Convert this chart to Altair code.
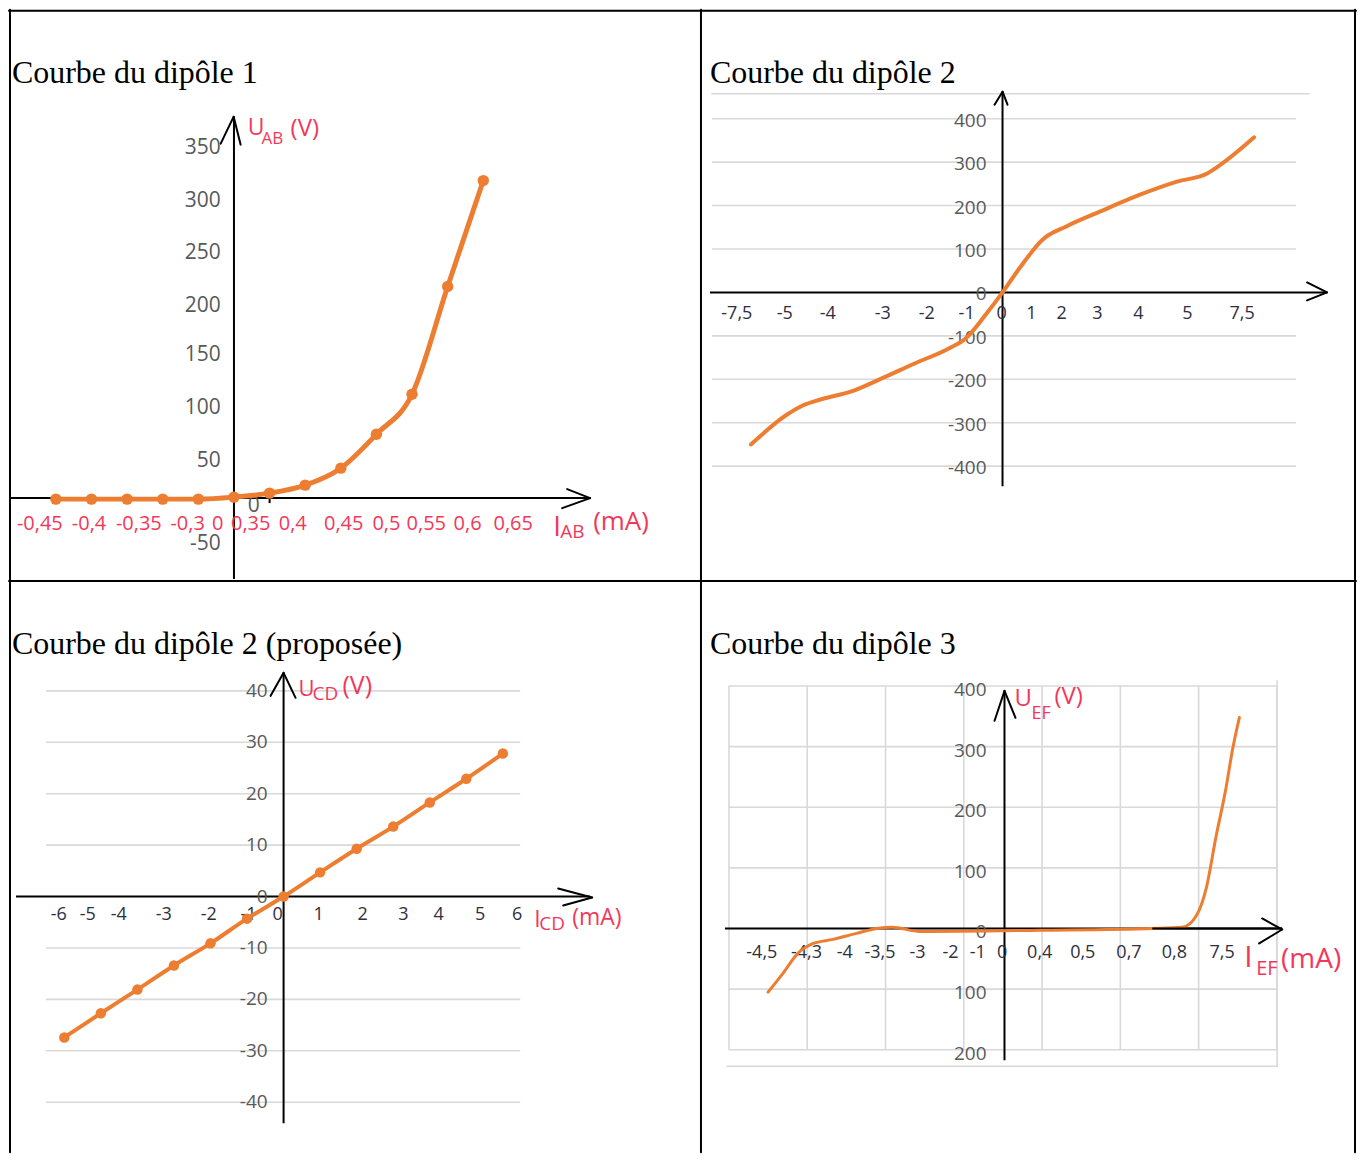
import altair as alt
import pandas as pd

# ---------------- data ----------------
# Panel 1 : Courbe du dipôle 1 (measurement points on evenly spaced slots)
P1_SLOT = [-5, -4, -3, -2, -1, 0, 1, 2, 3, 4, 5, 6, 7]
P1_U = [-1, -1, -1, -1, -1, 1, 5, 13, 30, 64, 104, 212, 318]
P1_XTICK_LABEL = ["-0,45", "-0,4", "-0,35", "-0,3", "0", "0,35", "0,4", "0,45", "0,5", "0,55", "0,6", "0,65"]
P1_XTICK_POS = [-5.45, -4.07, -2.67, -1.30, -0.46, 0.47, 1.65, 3.08, 4.28, 5.40, 6.56, 7.84]
P1_YTICK_LABEL = ["350", "300", "250", "200", "150", "100", "50", "-50"]
P1_YTICK_POS = [351, 298, 245, 192, 143, 90, 37, -46]

# Panel 2 : Courbe du dipôle 2
P2_I = [-7.5, -6.4, -6.0, -5.4, -4.5, -3.6, -2.6, -1.6, -1.1, -0.5, 0, 0.5, 1.2, 1.9, 2.9, 4.1, 5.2, 6.1, 6.5, 7.5]
P2_U = [-350, -280, -262, -246, -228, -198, -163, -129, -106, -51, 0, 55, 122, 152, 186, 225, 255, 274, 294, 357]
P2_XTICK_LABEL = ["-7,5", "-5", "-4", "-3", "-2", "-1", "0", "1", "2", "3", "4", "5", "7,5"]
P2_XTICK_POS = [-7.92, -6.49, -5.21, -3.57, -2.26, -1.07, -0.03, 0.86, 1.76, 2.83, 4.05, 5.51, 7.14]
P2_YTICK = [400, 300, 200, 100, 0, -100, -200, -300, -400]
P2_YTICK_LABEL = ["400", "300", "200", "100", "0", "-100", "-200", "-300", "-400"]
P2_GRID = [400, 300, 200, 100, -100, -200, -300, -400]

# Panel 3 : Courbe du dipôle 2 (proposée)
P3_I = [-6, -5, -4, -3, -2, -1, 0, 1, 2, 3, 4, 5, 6]
P3_U = [-27.4, -22.7, -18.1, -13.4, -9.1, -4.3, 0, 4.7, 9.3, 13.6, 18.3, 22.9, 27.8]
P3_XTICK_LABEL = ["-6", "-5", "-4", "-3", "-2", "-1", "0", "1", "2", "3", "4", "5", "6"]
P3_XTICK_POS = [-6.15, -5.36, -4.51, -3.28, -2.05, -0.96, -0.16, 0.96, 2.16, 3.28, 4.24, 5.38, 6.39]
P3_YTICK = [40, 30, 20, 10, 0, -10, -20, -30, -40]
P3_YTICK_LABEL = ["40", "30", "20", "10", "0", "-10", "-20", "-30", "-40"]
P3_GRID = [40, 30, 20, 10, -10, -20, -30, -40]

# Panel 4 : Courbe du dipôle 3 (x in grid-cell units)
P4_X = [0.50, 0.69, 0.88, 1.07, 1.33, 1.63, 1.89, 2.09, 2.44, 3.97, 5.41, 5.79, 5.97, 6.10, 6.22, 6.35, 6.43, 6.52]
P4_U = [-105, -74, -41, -25, -18, -8, 0, 2, -5, -3, 0, 2, 21, 68, 150, 232, 293, 348]
P4_XTICK_LABEL = ["-4,5", "-4,3", "-4", "-3,5", "-3", "-2", "-1", "0", "0,4", "0,5", "0,7", "0,8", "7,5"]
P4_XTICK_POS = [0.42, 0.99, 1.48, 1.93, 2.41, 2.83, 3.18, 3.49, 3.97, 4.52, 5.11, 5.69, 6.30]
P4_YTICK = [400, 300, 200, 100, 0, -100, -200]
P4_YTICK_LABEL = ["400", "300", "200", "100", "0", "100", "200"]
P4_GRID_Y = [400, 300, 200, 100, 0, -100, -200]
P4_GRID_X = [0, 1, 2, 3, 4, 5, 6, 7]
P4_YAXIS_X = 3.52

TITLES = ["Courbe du dipôle 1", "Courbe du dipôle 2", "Courbe du dipôle 2 (proposée)", "Courbe du dipôle 3"]

# ---------------- style ----------------
ORANGE = "#ED7D31"
RED = "#F2385A"
GRAY = "#595959"
DARK = "#2E2E3E"
GRID = "#D9D9D9"
SANS = "Open Sans"
SERIF = "Liberation Serif"

WL, WR, H = 693, 656, 572
ONE = pd.DataFrame({"d": [0]})


def scales(W, Hh, ox, kx, oy, ky):
    xs = alt.Scale(domain=[(0 - ox) / kx, (W - ox) / kx], nice=False, zero=False)
    ys = alt.Scale(domain=[(oy - Hh) / ky, oy / ky], nice=False, zero=False)
    return xs, ys


def seg(x1, y1, x2, y2, color="black", w=2):
    return alt.Chart(ONE).mark_rule(color=color, strokeWidth=w, strokeCap="round").encode(
        x=alt.value(x1), y=alt.value(y1), x2=alt.value(x2), y2=alt.value(y2))


def txt(t, x, y, size, color, font=SANS, align="left", baseline="alphabetic"):
    return alt.Chart(ONE).mark_text(text=t, fontSize=size, color=color, font=font,
                                    align=align, baseline=baseline).encode(
        x=alt.value(x), y=alt.value(y))


def hline(yv, x1, x2, ys, color="black", w=2):
    return alt.Chart(ONE).mark_rule(color=color, strokeWidth=w).encode(
        y=alt.YDatum(datum=yv, scale=ys, axis=None), x=alt.value(x1), x2=alt.value(x2))


def vline(xv, y1, y2, xs, color="black", w=2):
    return alt.Chart(ONE).mark_rule(color=color, strokeWidth=w).encode(
        x=alt.XDatum(datum=xv, scale=xs, axis=None), y=alt.value(y1), y2=alt.value(y2))


def hgrid(values, x1, x2, ys, w=1.6):
    return alt.Chart(pd.DataFrame({"v": values})).mark_rule(color=GRID, strokeWidth=w).encode(
        y=alt.Y("v:Q", scale=ys, axis=None), x=alt.value(x1), x2=alt.value(x2))


def ylabels(values, labels, x, ys, size, color=GRAY, dy=0):
    return alt.Chart(pd.DataFrame({"v": values, "t": labels})).mark_text(
        align="right", baseline="middle", fontSize=size, color=color, font=SANS, dy=dy).encode(
        y=alt.Y("v:Q", scale=ys, axis=None), x=alt.value(x), text="t:N")


def xlabels(pos, labels, y, xs, size, color=DARK):
    return alt.Chart(pd.DataFrame({"p": pos, "t": labels})).mark_text(
        align="center", baseline="middle", fontSize=size, color=color, font=SANS).encode(
        x=alt.X("p:Q", scale=xs, axis=None), y=alt.value(y), text="t:N")


def curve(xv, yv, xs, ys, w):
    return alt.Chart(pd.DataFrame({"x": xv, "y": yv})).mark_line(
        color=ORANGE, strokeWidth=w, interpolate="monotone", strokeCap="round").encode(
        x=alt.X("x:Q", scale=xs, axis=None), y=alt.Y("y:Q", scale=ys, axis=None))


def dots(xv, yv, xs, ys, size):
    return alt.Chart(pd.DataFrame({"x": xv, "y": yv})).mark_circle(
        color=ORANGE, size=size, opacity=1).encode(
        x=alt.X("x:Q", scale=xs, axis=None), y=alt.Y("y:Q", scale=ys, axis=None))


# ---------------- panel 1 ----------------
xs1, ys1 = scales(WL, H, 225.3, 35.67, 489, 1.0)
p1 = alt.layer(
    seg(0, 1, WL, 1), seg(1, 0, 1, H), seg(WL, 0, WL, H), seg(0, H, WL, H),
    txt(TITLES[0], 3, 73, 32, "black", font=SERIF),
    hline(0, 2, 580, ys1),
    seg(559, 480, 582, 489), seg(554, 499, 582, 489),
    vline(0, 107, 570, xs1),
    seg(212, 134, 225, 107), seg(225, 107, 232, 135),
    vline(1, 479, 494, xs1),
    ylabels(P1_YTICK_POS, P1_YTICK_LABEL, 212, ys1, 21),
    txt("0", 239, 497, 21, GRAY, baseline="middle"),
    xlabels(P1_XTICK_POS, P1_XTICK_LABEL, 515, xs1, 20, RED),
    txt("U", 239, 125, 23, RED), txt("AB", 253, 134, 17, RED), txt("(V)", 282, 126, 24, RED),
    txt("I", 545, 527, 28, RED), txt("AB", 552, 529, 19, RED), txt("(mA)", 585, 521, 26, RED),
    curve(P1_SLOT, P1_U, xs1, ys1, 5),
    dots(P1_SLOT, P1_U, xs1, ys1, 130),
).properties(width=WL, height=H)

# ---------------- panel 2 ----------------
xs2, ys2 = scales(WR, H, 302, 33.6, 283, 0.435)
p2 = alt.layer(
    seg(0, 1, WR, 1), seg(WR - 1, 0, WR - 1, H), seg(0, H, WR, H),
    txt(TITLES[1], 9, 73, 32, "black", font=SERIF),
    hgrid(P2_GRID, 11, 596, ys2),
    seg(11, 84, 609, 84, GRID, 1.6),
    hline(0, 9, 627, ys2),
    seg(607, 273, 627, 283), seg(607, 291, 627, 283),
    vline(0, 82, 477, xs2),
    seg(294, 95, 302, 82), seg(302, 82, 307, 95),
    ylabels(P2_YTICK, P2_YTICK_LABEL, 286, ys2, 19, dy=2),
    xlabels(P2_XTICK_POS, P2_XTICK_LABEL, 305, xs2, 18),
    curve(P2_I, P2_U, xs2, ys2, 4),
).properties(width=WR, height=H)

# ---------------- panel 3 ----------------
xs3, ys3 = scales(WL, H, 275, 36.6, 316, 5.15)
p3 = alt.layer(
    seg(1, 0, 1, H), seg(WL, 0, WL, H),
    txt(TITLES[2], 3, 73, 32, "black", font=SERIF),
    hgrid(P3_GRID, 37, 512, ys3),
    hline(0, 7, 582, ys3),
    seg(550, 308, 584, 317), seg(555, 325, 584, 317),
    vline(0, 92, 543, xs3),
    seg(262, 115, 275, 92), seg(275, 92, 287, 117),
    ylabels(P3_YTICK, P3_YTICK_LABEL, 259, ys3, 19),
    xlabels(P3_XTICK_POS, P3_XTICK_LABEL, 335, xs3, 18),
    txt("U", 290, 115, 22, RED), txt("CD", 304, 119, 19, RED), txt("(V)", 334, 113, 25, RED),
    txt("I", 526, 347, 23, RED), txt("CD", 531, 350, 19, RED), txt("(mA)", 564, 345, 23, RED),
    curve(P3_I, P3_U, xs3, ys3, 4),
    dots(P3_I, P3_U, xs3, ys3, 110),
).properties(width=WL, height=H)

# ---------------- panel 4 ----------------
xs4, ys4 = scales(WR, H, 28, 78.4, 348, 0.607)
p4 = alt.layer(
    seg(WR - 1, 0, WR - 1, H),
    txt(TITLES[3], 9, 73, 32, "black", font=SERIF),
    hgrid(P4_GRID_Y, 28, 577, ys4),
    alt.Chart(pd.DataFrame({"g": P4_GRID_X})).mark_rule(color=GRID, strokeWidth=1.6).encode(
        x=alt.X("g:Q", scale=xs4, axis=None),
        y=alt.YDatum(datum=400, scale=ys4, axis=None), y2=alt.Y2Datum(datum=-200)),
    seg(26, 486, 577, 486, GRID, 1.6),
    seg(577, 100, 577, 486, GRID, 1.6),
    hline(0, 24, 582, ys4),
    vline(P4_YAXIS_X, 110, 480, xs4),
    seg(294, 140, 304, 110), seg(304, 110, 315, 137),
    ylabels(P4_YTICK, P4_YTICK_LABEL, 286, ys4, 19, dy=4),
    xlabels(P4_XTICK_POS, P4_XTICK_LABEL, 373, xs4, 18),
    txt("U", 314, 125, 24, RED), txt("EF", 331, 138, 18, RED), txt("(V)", 354, 123, 24, RED),
    txt("I", 544, 387, 30, RED), txt("EF", 556, 395, 20, RED), txt("(mA)", 581, 388, 28, RED),
    curve(P4_X, P4_U, xs4, ys4, 3),
    hline(0, 452, 582, ys4),
    seg(562, 338, 582, 349), seg(559, 363, 582, 349),
).properties(width=WR, height=H)

chart = alt.concat(p1, p2, p3, p4, columns=2, spacing=0, bounds="flush").properties(
    padding=0).configure_view(stroke=None)

chart.save("out.html", embed_options={"renderer": "svg", "actions": False})
